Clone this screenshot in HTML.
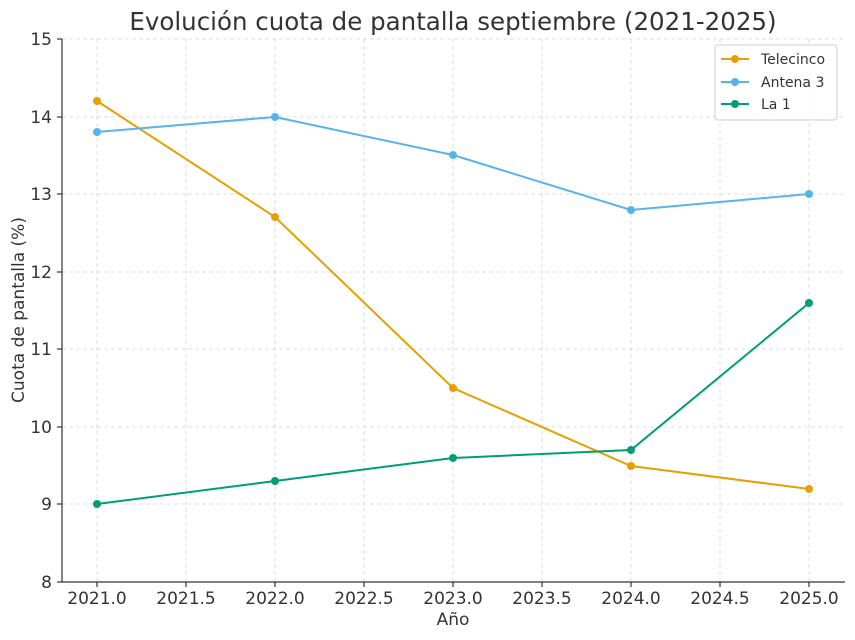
<!DOCTYPE html>
<html><head><meta charset="utf-8"><style>
html,body{margin:0;padding:0;background:#fff;}
svg{display:block;font-family:"DejaVu Sans","Liberation Sans",sans-serif;}
</style></head><body>
<svg width="855" height="640" viewBox="0 0 855 640">
<rect width="855" height="640" fill="#fff"/>
<text x="453" y="30" font-size="24.5" fill="#333" text-anchor="middle">Evolución cuota de pantalla septiembre (2021-2025)</text>
<g stroke="#d4d4d4" stroke-width="0.8" stroke-dasharray="4,3">
<line x1="97" y1="39" x2="97" y2="582"/><line x1="186" y1="39" x2="186" y2="582"/>
<line x1="275" y1="39" x2="275" y2="582"/><line x1="364" y1="39" x2="364" y2="582"/>
<line x1="453" y1="39" x2="453" y2="582"/><line x1="542" y1="39" x2="542" y2="582"/>
<line x1="631" y1="39" x2="631" y2="582"/><line x1="720" y1="39" x2="720" y2="582"/>
<line x1="809" y1="39" x2="809" y2="582"/>
<line x1="62" y1="39" x2="845" y2="39"/><line x1="62" y1="117" x2="845" y2="117"/>
<line x1="62" y1="194" x2="845" y2="194"/><line x1="62" y1="272" x2="845" y2="272"/>
<line x1="62" y1="349" x2="845" y2="349"/><line x1="62" y1="427" x2="845" y2="427"/>
<line x1="62" y1="504" x2="845" y2="504"/>
</g>
<g stroke="#333" stroke-width="1.2">
<line x1="62" y1="39" x2="62" y2="582"/><line x1="62" y1="582" x2="845" y2="582"/>
<line x1="57" y1="39" x2="62" y2="39"/><line x1="57" y1="117" x2="62" y2="117"/><line x1="57" y1="194" x2="62" y2="194"/><line x1="57" y1="272" x2="62" y2="272"/><line x1="57" y1="349" x2="62" y2="349"/><line x1="57" y1="427" x2="62" y2="427"/><line x1="57" y1="504" x2="62" y2="504"/><line x1="57" y1="582" x2="62" y2="582"/>
<line x1="97" y1="582" x2="97" y2="587"/><line x1="186" y1="582" x2="186" y2="587"/><line x1="275" y1="582" x2="275" y2="587"/><line x1="364" y1="582" x2="364" y2="587"/><line x1="453" y1="582" x2="453" y2="587"/><line x1="542" y1="582" x2="542" y2="587"/><line x1="631" y1="582" x2="631" y2="587"/><line x1="720" y1="582" x2="720" y2="587"/><line x1="809" y1="582" x2="809" y2="587"/>
</g>
<g font-size="17" fill="#333" text-anchor="end">
<text x="52" y="45">15</text><text x="52" y="123">14</text><text x="52" y="200">13</text><text x="52" y="278">12</text><text x="52" y="355">11</text><text x="52" y="433">10</text><text x="52" y="510">9</text><text x="52" y="588">8</text>
</g>
<g font-size="17" fill="#333" text-anchor="middle">
<text x="97" y="604">2021.0</text><text x="186" y="604">2021.5</text><text x="275" y="604">2022.0</text><text x="364" y="604">2022.5</text><text x="453" y="604">2023.0</text><text x="542" y="604">2023.5</text><text x="631" y="604">2024.0</text><text x="720" y="604">2024.5</text><text x="809" y="604">2025.0</text>
<text x="453" y="625">Año</text>
</g>
<text transform="translate(24,310) rotate(-90)" font-size="17" fill="#333" text-anchor="middle">Cuota de pantalla (%)</text>
<g fill="none" stroke-width="2">
<polyline stroke="#E69F00" points="97,101 275,217 453,388 631,466 809,489"/>
<polyline stroke="#56B4E9" points="97,132 275,117 453,155 631,210 809,194"/>
<polyline stroke="#009E73" points="97,504 275,481 453,458 631,450 809,303"/>
</g>
<g fill="#E69F00"><circle cx="97" cy="101" r="4"/><circle cx="275" cy="217" r="4"/><circle cx="453" cy="388" r="4"/><circle cx="631" cy="466" r="4"/><circle cx="809" cy="489" r="4"/></g>
<g fill="#56B4E9"><circle cx="97" cy="132" r="4"/><circle cx="275" cy="117" r="4"/><circle cx="453" cy="155" r="4"/><circle cx="631" cy="210" r="4"/><circle cx="809" cy="194" r="4"/></g>
<g fill="#009E73"><circle cx="97" cy="504" r="4"/><circle cx="275" cy="481" r="4"/><circle cx="453" cy="458" r="4"/><circle cx="631" cy="450" r="4"/><circle cx="809" cy="303" r="4"/></g>
<rect x="715" y="45" width="122" height="75" rx="3" fill="#fff" fill-opacity="0.85" stroke="#ccc"/>
<g stroke-width="2">
<line x1="721" y1="59" x2="749" y2="59" stroke="#E69F00"/><circle cx="735" cy="59" r="4" fill="#E69F00"/>
<line x1="721" y1="82" x2="749" y2="82" stroke="#56B4E9"/><circle cx="735" cy="82" r="4" fill="#56B4E9"/>
<line x1="721" y1="104" x2="749" y2="104" stroke="#009E73"/><circle cx="735" cy="104" r="4" fill="#009E73"/>
</g>
<g font-size="14" fill="#333">
<text x="761" y="64">Telecinco</text><text x="761" y="87">Antena 3</text><text x="761" y="109">La 1</text>
</g>
</svg>
</body></html>
